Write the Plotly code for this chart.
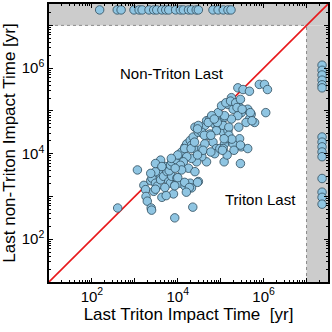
import numpy as np
import plotly.graph_objects as go

# log10 of impact times [yr]
triton_log = [
    2.60, 3.06, 3.21, 3.25, 3.26, 3.29, 3.38, 3.39, 3.37, 3.40, 3.48, 3.44, 3.52, 3.56,
    3.60, 3.63, 3.67, 3.71, 3.75, 3.79, 3.83, 3.86, 3.90, 3.94, 3.93, 3.98, 3.60, 3.48,
    3.37, 3.80, 4.06, 4.17, 4.29, 4.32, 4.48, 3.83, 3.86, 3.98, 4.02, 4.09, 4.17, 4.21,
    4.29, 4.36, 4.40, 4.48, 4.56, 4.63, 4.67, 4.75, 4.82, 4.86, 4.94, 5.02, 5.09, 4.71,
    4.82, 4.90, 4.86, 4.67, 4.56, 4.44, 4.32, 4.21, 4.13, 4.06, 4.32, 4.44, 4.56, 4.25,
    4.09, 3.94, 4.40, 5.09, 4.98, 5.06, 5.40, 5.52, 5.67, 5.90, 6.02, 6.09, 5.25, 5.36,
    5.17, 5.29, 5.44, 5.48, 5.63, 5.71, 5.67, 5.79, 5.59, 5.40, 5.25, 5.09, 4.94, 5.02,
    4.79, 4.71, 4.56, 4.48, 4.90, 4.75, 5.06, 5.17, 5.21, 5.13, 5.29, 5.44, 5.48, 5.63,
    4.63, 5.06, 6.05, 4.59, 5.46, 5.08, 5.15, 4.00, 3.85, 4.16, 4.77, 5.04, 4.46, 4.31,
    4.39, 4.92, 4.85, 5.12, 5.23, 5.35, 5.46, 5.38, 5.50, 5.69, 5.73, 5.19, 5.42, 5.19,
    5.26, 5.46, 5.08, 4.46, 4.62, 4.77, 5.31, 4.00, 3.93, 4.16, 4.27, 4.20, 4.46, 4.35,
    3.73, 3.70, 3.48, 3.48, 3.63,
]
nontriton_log = [
    2.73, 3.62, 3.26, 3.16, 3.00, 2.89, 2.73, 2.68, 3.37, 3.43, 3.31, 3.12, 3.24, 3.54,
    3.39, 2.98, 3.47, 3.70, 3.58, 3.35, 3.31, 3.47, 3.06, 3.27, 2.50, 3.43, 3.85, 3.58,
    3.54, 3.60, 3.31, 3.24, 3.31, 3.20, 3.35, 3.73, 3.81, 3.85, 3.97, 4.04, 4.16, 4.23,
    4.31, 4.39, 4.62, 4.50, 4.58, 4.66, 4.77, 4.81, 4.85, 4.69, 4.62, 4.77, 4.85, 4.43,
    4.27, 4.12, 4.00, 3.81, 3.93, 3.81, 3.89, 3.93, 3.81, 3.73, 4.20, 4.08, 4.12, 3.66,
    3.62, 3.66, 3.58, 4.23, 4.12, 4.50, 5.54, 5.50, 5.46, 5.62, 5.62, 5.50, 5.31, 5.15,
    5.15, 5.04, 5.08, 4.96, 5.04, 4.92, 4.81, 4.73, 4.73, 4.89, 4.81, 4.89, 4.96, 5.12,
    4.89, 4.73, 4.50, 4.66, 4.54, 4.46, 4.66, 4.54, 4.35, 4.35, 4.23, 4.35, 4.16, 4.12,
    4.23, 4.12, 4.96, 4.08, 3.77, 3.81, 3.97, 3.97, 3.89, 4.12, 4.04, 4.08, 3.97, 4.12,
    4.27, 4.73, 4.81, 5.19, 5.23, 5.19, 5.27, 5.08, 5.04, 4.96, 4.77, 4.62, 4.62, 4.43,
    4.34, 4.20, 4.35, 4.58, 4.43, 4.43, 4.08, 3.44, 3.25, 3.33, 3.21, 3.10, 3.33, 2.75,
    3.02, 3.21, 3.17, 3.77, 3.70,
]

# runs with no non-Triton impact (top band) and no Triton impact (right band)
no_nontriton_triton_log = [
    2.18, 2.59, 2.68, 2.98, 3.10, 3.17, 3.33, 3.44, 3.51, 3.63, 3.72, 3.79, 3.95, 4.06,
    4.13, 4.25, 4.32, 4.43, 4.48, 4.82, 4.94, 5.06, 5.17, 5.24,
]
no_triton_nontriton_log = [
    6.07, 5.95, 5.84, 5.72, 5.61, 5.54, 4.39, 4.27, 4.16, 4.04, 3.93, 3.42, 3.10, 2.98, 2.82,
]
NONE_VALUE = 2.3e7   # where "never" runs are parked
CUTOFF = 1e7         # edge of the shaded band
AX_RANGE = [1, 7.5]

FILL = "#8fc5e2"
EDGE = "#2e4b5c"
FONT = "Liberation Sans, Arial, sans-serif"

xs = np.concatenate([10 ** np.array(triton_log), 10 ** np.array(no_nontriton_triton_log),
                     np.full(len(no_triton_nontriton_log), NONE_VALUE)])
ys = np.concatenate([10 ** np.array(nontriton_log), np.full(len(no_nontriton_triton_log), NONE_VALUE),
                     10 ** np.array(no_triton_nontriton_log)])

lo, hi = 10 ** AX_RANGE[0], 10 ** AX_RANGE[1]

fig = go.Figure()
fig.add_trace(go.Scatter(x=[lo, hi], y=[lo, hi], mode="lines",
                         line=dict(color="#e8191c", width=1.6), hoverinfo="skip"))
fig.add_trace(go.Scatter(x=xs, y=ys, mode="markers", cliponaxis=False,
                         marker=dict(size=8.5, color=FILL, line=dict(color=EDGE, width=0.8))))

shade = dict(type="rect", layer="below", fillcolor="#cccccc", line=dict(width=0),
             xref="x", yref="y")
fig.add_shape(**shade, x0=lo, x1=hi, y0=CUTOFF, y1=hi)
fig.add_shape(**shade, x0=CUTOFF, x1=hi, y0=lo, y1=CUTOFF)
dots = dict(type="line", layer="below", line=dict(color="#8a8a8a", width=1, dash="dot"),
            xref="x", yref="y")
fig.add_shape(**dots, x0=lo, x1=CUTOFF, y0=CUTOFF, y1=CUTOFF)
fig.add_shape(**dots, x0=CUTOFF, x1=CUTOFF, y0=lo, y1=CUTOFF)

note = dict(xref="paper", yref="paper", showarrow=False, xanchor="center", yanchor="middle",
            font=dict(size=15, color="black", family=FONT))
fig.add_annotation(**note, text="Non-Triton Last", x=0.44, y=0.75)
fig.add_annotation(**note, text="Triton Last", x=0.758, y=0.296)

decades = [10 ** k for k in range(1, 8)]
labels = ["" if k % 2 else f"10<sup>{k}</sup>" for k in range(1, 8)]
minor_vals = [m * 10 ** k for k in range(1, 8) for m in range(2, 10)]

axis = dict(type="log", range=AX_RANGE, showgrid=False, zeroline=False,
            showline=True, linecolor="black", linewidth=1.5, mirror="ticks",
            ticks="inside", ticklen=4, tickcolor="black", tickwidth=1,
            tickmode="array", tickvals=decades, ticktext=labels,
            tickfont=dict(size=15, color="black", family=FONT),
            minor=dict(tickmode="array", tickvals=minor_vals, ticks="inside",
                       ticklen=2, tickcolor="black", showgrid=False))

fig.update_xaxes(**axis, title=dict(text="Last Triton Impact Time  [yr]",
                                    font=dict(size=17, color="black", family=FONT), standoff=4))
fig.update_yaxes(**axis, title=dict(text="Last non-Triton Impact Time [yr]",
                                    font=dict(size=17, color="black", family=FONT), standoff=4))

fig.update_layout(width=332, height=332, showlegend=False,
                  margin=dict(l=49, r=2, t=2, b=50),
                  plot_bgcolor="white", paper_bgcolor="white")

fig.write_html("out.html", config={"displayModeBar": False},
               post_script="document.body.style.margin='0';")
